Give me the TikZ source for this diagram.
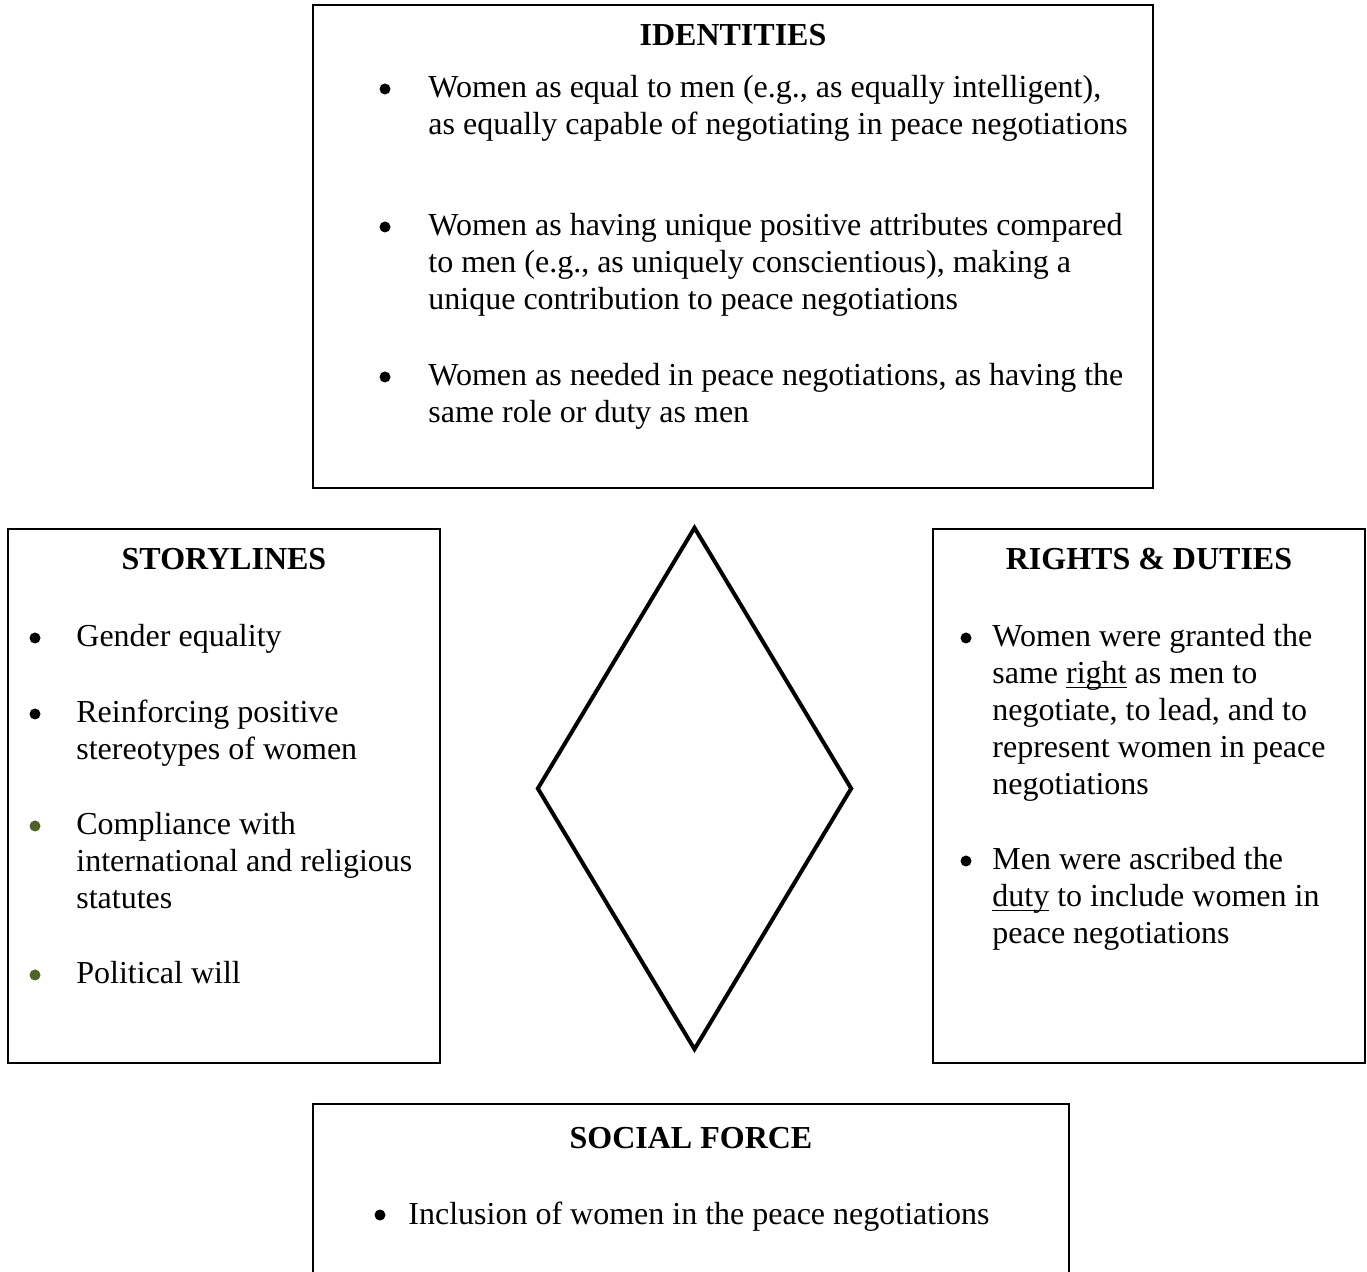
\documentclass[tikz,border=0pt]{standalone}
\usepackage{fontspec}
\setmainfont{Liberation Serif}
\usetikzlibrary{shapes.geometric}
\definecolor{bulletgreen}{RGB}{79,98,40}
\newcommand{\ulword}[1]{\setbox0\hbox{#1}\rlap{\rule[-2.2pt]{\wd0}{0.8pt}}\box0\relax}
\begin{document}
\begin{tikzpicture}[x=0.5pt,y=-0.5pt,
  box/.style={draw=black, line width=0.75pt, rectangle, inner sep=0pt, outer sep=0pt},
  txt/.style={anchor=base west, inner sep=0pt, font=\fontsize{16}{18.5}\selectfont},
  ttl/.style={anchor=base, inner sep=0pt, font=\fontsize{16}{18.5}\selectfont\bfseries},
  dot/.style={circle, fill=black, inner sep=0pt, minimum size=5.5pt},
  gdot/.style={dot, fill=bulletgreen}]
\useasboundingbox (0,0) rectangle (1367,1272);
\clip (0,0) rectangle (1367,1272);
% boxes
\node[box, minimum width=420pt, minimum height=241.5pt] (idbox) at (733,246.5) {};
\node[box, minimum width=216pt, minimum height=267pt] (slbox) at (224,796) {};
\node[box, minimum width=216pt, minimum height=267pt] (rdbox) at (1149,796) {};
\node[box, minimum width=378pt, minimum height=110pt] (sfbox) at (691,1214) {};
\node[draw=black, line width=2pt, diamond, inner sep=0pt, minimum width=157.5pt, minimum height=261.5pt] (dia) at (694.5,788.5) {};
% IDENTITIES
\node[ttl] (idt) at (733,46) {IDENTITIES};
\node[dot] (ib1) at (385,89) {};
\node[txt] (i1a) at (428,98) {Women as equal to men (e.g., as equally intelligent),};
\node[txt] (i1b) at (428,135) {as equally capable of negotiating in peace negotiations};
\node[dot] (ib2) at (385,227) {};
\node[txt] (i2a) at (428,236) {Women as having unique positive attributes compared};
\node[txt] (i2b) at (428,273) {to men (e.g., as uniquely conscientious), making a};
\node[txt] (i2c) at (428,310) {unique contribution to peace negotiations};
\node[dot] (ib3) at (385,377) {};
\node[txt] (i3a) at (428,386) {Women as needed in peace negotiations, as having the};
\node[txt] (i3b) at (428,423) {same role or duty as men};
% STORYLINES
\node[ttl] (slt) at (224,570) {STORYLINES};
\node[dot] (sb1) at (35,638) {};
\node[txt] (s1a) at (76,647) {Gender equality};
\node[dot] (sb2) at (35,714) {};
\node[txt] (s2a) at (76,723) {Reinforcing positive};
\node[txt] (s2b) at (76,760) {stereotypes of women};
\node[gdot] (sb3) at (35,826) {};
\node[txt] (s3a) at (76,835) {Compliance with};
\node[txt] (s3b) at (76,872) {international and religious};
\node[txt] (s3c) at (76,909) {statutes};
\node[gdot] (sb4) at (35,975) {};
\node[txt] (s4a) at (76,984) {Political will};
% RIGHTS & DUTIES
\node[ttl] (rdt) at (1149,570) {RIGHTS \& DUTIES};
\node[dot] (rb1) at (966,638) {};
\node[txt] (r1a) at (992,647) {Women were granted the};
\node[txt] (r1b) at (992,684) {same \ulword{right} as men to};
\node[txt] (r1c) at (992,721) {negotiate, to lead, and to};
\node[txt] (r1d) at (992,758) {represent women in peace};
\node[txt] (r1e) at (992,795) {negotiations};
\node[dot] (rb2) at (966,861) {};
\node[txt] (r2a) at (992,870) {Men were ascribed the};
\node[txt] (r2b) at (992,907) {\ulword{duty} to include women in};
\node[txt] (r2c) at (992,944) {peace negotiations};
% SOCIAL FORCE
\node[ttl] (sft) at (691,1148) {SOCIAL FORCE};
\node[dot] (fb1) at (380,1215) {};
\node[txt] (f1a) at (408,1224) {Inclusion of women in the peace negotiations};
\end{tikzpicture}
\end{document}
